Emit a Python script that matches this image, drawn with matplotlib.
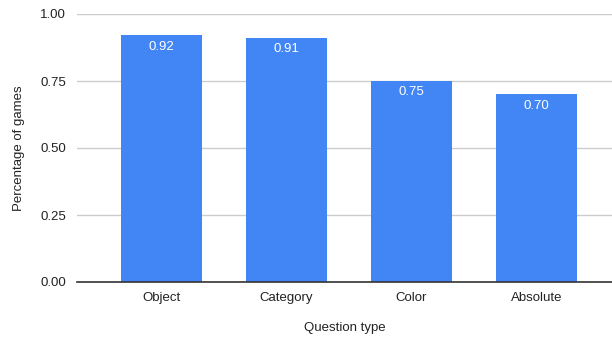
import matplotlib
matplotlib.use("Agg")
import matplotlib.pyplot as plt

categories = ["Object", "Category", "Color", "Absolute"]
values = [0.92, 0.91, 0.75, 0.70]
yticks = [0.0, 0.25, 0.50, 0.75, 1.00]

plt.rcParams["font.family"] = ["Liberation Sans", "DejaVu Sans"]

fig = plt.figure(figsize=(6.12, 3.40), dpi=100)
ax = fig.add_axes([77 / 612, 1 - 282 / 340, 1 - 77 / 612, 268 / 340])

x = list(range(len(categories)))
bars = ax.bar(x, values, width=0.648, color="#4285f4", zorder=3)
for xi, v in zip(x, values):
    ax.text(xi, v - 0.02, f"{v:.2f}", ha="center", va="top", color="white", fontsize=9.5, zorder=4)

ax.set_xlim(-0.676, 3.604)
ax.set_ylim(0, 1.0)
ax.set_yticks(yticks)
ax.set_yticklabels([f"{t:.2f}" for t in yticks], fontsize=9.5, color="#222222")
ax.set_xticks(x)
ax.set_xticklabels(categories, fontsize=9.5, color="#222222")
ax.tick_params(axis="x", length=0, pad=7)
ax.tick_params(axis="y", length=0, pad=8)
ax.grid(axis="y", color="#cccccc", linewidth=1, zorder=0)
ax.set_axisbelow(True)
for s in ["top", "right", "left"]:
    ax.spines[s].set_visible(False)
ax.spines["bottom"].set_color("#333333")
ax.spines["bottom"].set_linewidth(1.2)
ax.spines["bottom"].set_zorder(5)
ax.set_xlabel("Question type", fontsize=9.5, color="#222222", labelpad=13)
ax.set_ylabel("Percentage of games", fontsize=9.5, color="#222222", labelpad=11)

fig.savefig("out.png", dpi=100)
